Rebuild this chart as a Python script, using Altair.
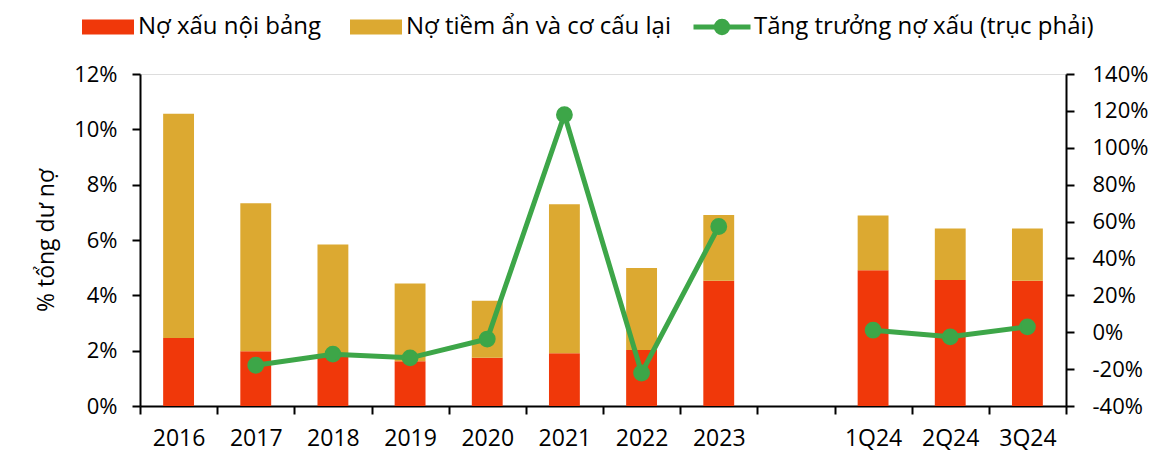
import altair as alt
import pandas as pd

# ---- data ----
categories = ["2016", "2017", "2018", "2019", "2020", "2021", "2022", "2023", "1Q24", "2Q24", "3Q24"]
axis_order = ["2016", "2017", "2018", "2019", "2020", "2021", "2022", "2023", " ", "1Q24", "2Q24", "3Q24"]
npl_on_balance = [2.46, 1.98, 1.78, 1.62, 1.74, 1.91, 2.02, 4.53, 4.91, 4.55, 4.53]
npl_potential = [8.10, 5.35, 4.06, 2.81, 2.06, 5.38, 2.97, 2.37, 1.98, 1.87, 1.89]
growth_categories = ["2017", "2018", "2019", "2020", "2021", "2022", "2023", "1Q24", "2Q24", "3Q24"]
npl_growth = [-17.9, -11.9, -13.9, -3.7, 117.9, -22.1, 57.3, 1.1, -2.5, 2.9]
growth_segment = ["y", "y", "y", "y", "y", "y", "y", "q", "q", "q"]

S1 = "Nợ xấu nội bảng"
S2 = "Nợ tiềm ẩn và cơ cấu lại"
S3 = "Tăng trưởng nợ xấu (trục phải)"
bar_colors = ["#F0380A", "#DCA931"]
GREEN = "#3DA648"

FONT = "Open Sans"
FS = 22
FS_LEG = 24
FS_X = 23

bars = pd.DataFrame(
    [{"cat": c, "series": S1, "value": v, "k": 0} for c, v in zip(categories, npl_on_balance)]
    + [{"cat": c, "series": S2, "value": v, "k": 1} for c, v in zip(categories, npl_potential)]
)
line = pd.DataFrame({"cat": growth_categories, "growth": npl_growth, "seg": growth_segment})
line["series"] = S3

x_enc = alt.X(
    "cat:N",
    scale=alt.Scale(domain=axis_order, paddingInner=0, paddingOuter=0),
    sort=axis_order,
    axis=alt.Axis(
        title=None, labelAngle=0, tickBand="extent", tickSize=8, tickWidth=2,
        tickColor="black", domainColor="black", domainWidth=2,
        labelFont=FONT, labelFontSize=FS_X, labelColor="black", labelPadding=13,
    ),
)

RECT_PATH = "M-1,-0.29L1,-0.29L1,0.29L-1,0.29Z"
LINE_DOT_PATH = (
    "M-1,0L1,0 "
    "M0.2,0A0.2,0.2 0 1,1 -0.2,0A0.2,0.2 0 1,1 0.2,0Z "
    "M0.1,0A0.1,0.1 0 1,1 -0.1,0A0.1,0.1 0 1,1 0.1,0Z"
)

bar_legend = alt.Legend(
    title=None, orient="none", direction="horizontal", legendX=-58, legendY=-73,
    symbolType=RECT_PATH, symbolSize=2704, symbolStrokeWidth=0, symbolOpacity=1,
    labelFont=FONT, labelFontSize=FS_LEG, labelColor="black",
    labelLimit=600, labelOffset=4, columnPadding=28,
)
line_legend = alt.Legend(
    title=None, orient="none", direction="horizontal", legendX=551, legendY=-78,
    symbolType=LINE_DOT_PATH, symbolSize=3249, symbolStrokeWidth=5, symbolOpacity=1,
    labelFont=FONT, labelFontSize=FS_LEG, labelColor="black",
    labelLimit=600, labelOffset=1,
)

bar_layer = alt.Chart(bars).mark_bar(width=alt.RelativeBandSize(0.4)).encode(
    x=x_enc,
    y=alt.Y(
        "value:Q", stack="zero",
        scale=alt.Scale(domain=[0, 12], nice=False),
        axis=alt.Axis(
            title="% tổng dư nợ", values=[0, 2, 4, 6, 8, 10, 12],
            labelExpr="datum.value + '%'", grid=False, tickSize=8, tickWidth=2,
            tickColor="black", domainColor="black", domainWidth=2,
            labelFont=FONT, labelFontSize=FS, labelColor="black", labelPadding=15,
            titleFont=FONT, titleFontSize=23, titleFontWeight="normal", titleColor="black",
            titlePadding=15,
        ),
    ),
    color=alt.Color("series:N", scale=alt.Scale(domain=[S1, S2], range=bar_colors), legend=bar_legend),
    order=alt.Order("k:Q", sort="ascending"),
)

line_layer = alt.Chart(line).mark_line(
    strokeWidth=5,
    point=alt.OverlayMarkDef(filled=True, size=220, color=GREEN, opacity=1),
).encode(
    x=alt.X("cat:N", sort=axis_order),
    y=alt.Y(
        "growth:Q",
        scale=alt.Scale(domain=[-40, 140], nice=False),
        axis=alt.Axis(
            orient="right", title=None, values=list(range(-40, 141, 20)),
            labelExpr="datum.value + '%'", grid=False, tickSize=8, tickWidth=2,
            tickColor="black", domainColor="black", domainWidth=2,
            labelFont=FONT, labelFontSize=FS, labelColor="black", labelPadding=18,
        ),
    ),
    stroke=alt.Stroke("series:N", scale=alt.Scale(domain=[S3], range=[GREEN]), legend=line_legend),
    detail="seg:N",
)

chart = (
    alt.layer(bar_layer, line_layer)
    .resolve_scale(y="independent")
    .properties(
        width=926, height=332,
        autosize=alt.AutoSizeParams(type="none"),
        padding={"left": 132, "top": 66, "right": 90, "bottom": 48},
    )
    .configure_view(stroke=None)
    .configure(font=FONT)
)

chart.save("out.html", embed_options={"renderer": "svg", "actions": False})
